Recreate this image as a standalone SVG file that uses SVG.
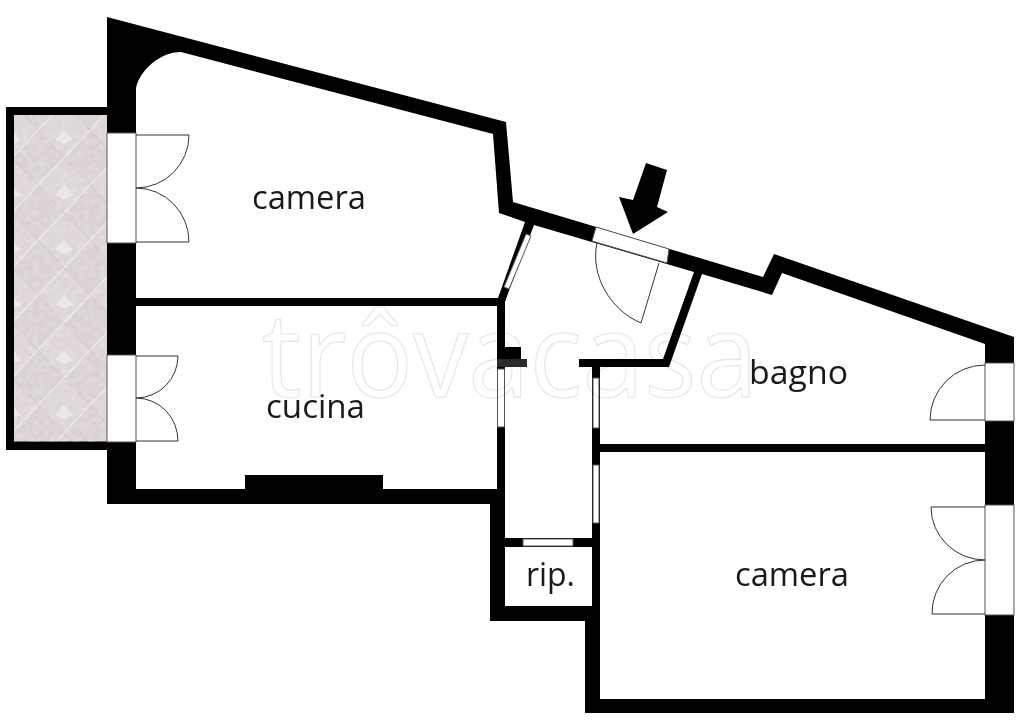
<svg xmlns="http://www.w3.org/2000/svg" width="1024" height="728" viewBox="0 0 1024 728">
<style>
.win{fill:#fff;stroke:#555;stroke-width:1}
.swing{fill:none;stroke:#333;stroke-width:1}
.room{fill:#fff}
.lbl{font-family:"Open Sans","Noto Sans",sans-serif;font-size:33px;fill:#1a1a1a}
.wm{font-family:"Open Sans","Noto Sans",sans-serif;font-size:117px;font-weight:500;fill:none;stroke:#e6e6e6;stroke-width:1.2;mix-blend-mode:multiply}
</style>
<defs>
<pattern id="tile" x="12" y="130" width="52" height="55" patternUnits="userSpaceOnUse">
<rect width="52" height="55" fill="#ddd5d6"/>
<path d="M26 0L0 28L26 55L52 28Z" fill="#d9d1d2"/>
<path d="M0 28L26 0M26 55L52 28" fill="none" stroke="#efeaea" stroke-width="1.2"/>
<path d="M0 28L26 55M26 0L52 28" fill="none" stroke="#cbc2c4" stroke-width=".8"/>
<path d="M0 0L9 10L0 14ZM52 0L43 10L52 14Z" fill="#ebe5e5"/>
</pattern>
<filter id="mottle" x="0" y="0" width="1" height="1">
<feTurbulence type="fractalNoise" baseFrequency=".18" numOctaves="2" seed="4"/>
<feColorMatrix values="0 0 0 0 1 0 0 0 0 1 0 0 0 0 1 .5 0 0 0 -.18"/>
</filter>
</defs>
<rect width="1024" height="728" fill="#fff"/>
<g id="balcony"><rect x="6" y="107" width="102" height="343" fill="#000"/><rect x="14" y="115" width="93" height="326.500" fill="url(#tile)"/><rect x="14" y="115" width="93" height="326.500" filter="url(#mottle)"/></g>
<path id="walls" fill="#000" d="M107 17L506 122L513 202L763 277L774 254L1014 337V713H585V621H490V504H107Z"/>
<g id="rooms">
<path class="room" d="M136 88C140 70 160 52 181 52L493 134L499 213L525 222L498 298H136Z"/>
<rect class="room" x="136" y="306" width="361" height="183"/>
<path fill="#000" d="M245 475H383V490H245Z"/>
<path class="room" d="M534 225L694 272L663 359H579V367H592V538H505V367H527V359H521V347H505V302L510 288Z"/>
<path class="room" d="M702 274L772 295L782 273L985 344V444H600V367H669Z"/>
<rect class="room" x="600" y="452" width="385" height="247"/>
<rect class="room" x="505" y="547" width="87" height="59"/>
</g>
<rect id="stub-shade" x="497" y="359" width="30" height="8" fill="#2b2b2b"/>
<g id="windows">
<rect class="win" x="107" y="133" width="29" height="110"/>
<rect class="win" x="107" y="355" width="29" height="87"/>
<rect class="win" x="985" y="363" width="29" height="58"/>
<rect class="win" x="985" y="505" width="29" height="110"/>
<rect class="win" x="497.500" y="369" width="7" height="58"/>
<rect class="win" x="593" y="378" width="6" height="50"/>
<rect class="win" x="593" y="465" width="6" height="58"/>
<rect class="win" x="523" y="539" width="50" height="7"/>
<path class="win" d="M526 234L531 236L509 289L504 287Z"/>
<path class="win" d="M596 227L669 249L667 263L592 241Z"/>
</g>
<g id="door-swings">
<path class="swing" d="M136 135H189A53 53 0 0 1 136 188A53 54 0 0 1 189 242H136"/>
<path class="swing" d="M136 356H178A42 42 0 0 1 136 398A42 43 0 0 1 178 441H136"/>
<path class="swing" d="M985 365A55 55 0 0 0 930 420H985"/>
<path class="swing" d="M985 507H931A54 53 0 0 0 985 560A53 53 0 0 0 932 614H985"/>
<path class="swing" stroke-width=".8" d="M597 243C590 275 610 310 641 323L659 263"/>
</g>
<path id="arrow" fill="#000" d="M646 163L667 170L657 207L668 212L633 234L619 197L633 200Z"/>
<text class="wm" x="262" y="397" textLength="496" lengthAdjust="spacingAndGlyphs">trôvacasa</text>
<g id="labels">
<text class="lbl" x="252" y="209" textLength="114" lengthAdjust="spacingAndGlyphs">camera</text>
<text class="lbl" x="266" y="418" textLength="99" lengthAdjust="spacingAndGlyphs">cucina</text>
<text class="lbl" x="749" y="384" textLength="99" lengthAdjust="spacingAndGlyphs">bagno</text>
<text class="lbl" x="735" y="586" textLength="114" lengthAdjust="spacingAndGlyphs">camera</text>
<text class="lbl" x="526" y="586" textLength="49" lengthAdjust="spacingAndGlyphs">rip.</text>
</g>
</svg>
